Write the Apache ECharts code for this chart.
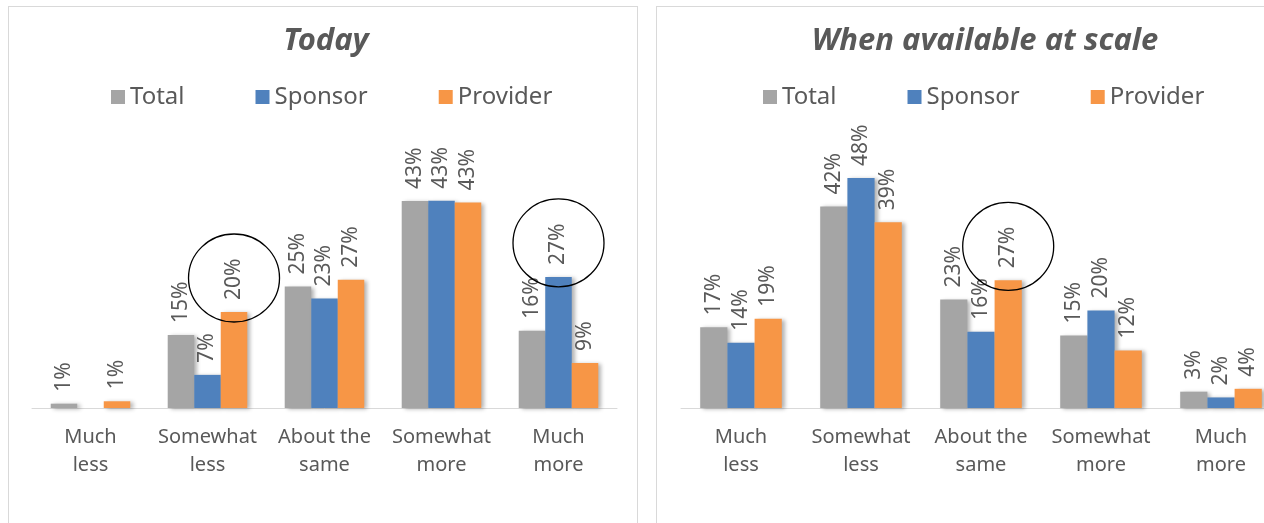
<!DOCTYPE html>
<html>
<head>
    <meta charset="utf-8">
    <title>Today / When available at scale</title>
    <script src="https://cdn.jsdelivr.net/npm/echarts@6/dist/echarts.min.js"></script>
    <style>
        body { margin: 0; width: 1264px; height: 523px; overflow: hidden; background: #fff; position: relative; }
        .panel { position: absolute; top: 6px; height: 540px; border: 1px solid #d9d9d9; }
        #chartToday { left: 8px; width: 628px; }
        #chartScale { left: 656px; width: 640px; }
    </style>
</head>
<body>
<div id="chartToday" class="panel"></div>
<div id="chartScale" class="panel"></div>
<script type="text/javascript">
    // categories and series
    var categories = ['Much\nless', 'Somewhat\nless', 'About the\nsame', 'Somewhat\nmore', 'Much\nmore'];
    var seriesNames = ['Total', 'Sponsor', 'Provider'];
    var colors = ['#A5A5A5', '#4F81BD', '#F79646'];

    // values (%)
    var todayTotal = [0.9, 15.2, 25.3, 43.1, 16.1];
    var todaySponsor = [0, 6.9, 22.8, 43.2, 27.3];
    var todayProvider = [1.4, 20.0, 26.7, 42.8, 9.4];

    var scaleTotal = [16.8, 42.0, 22.6, 15.1, 3.4];
    var scaleSponsor = [13.6, 47.9, 15.9, 20.3, 2.2];
    var scaleProvider = [18.6, 38.7, 26.6, 12.0, 4.0];

    // circled labels: [series name, category index]
    var todayCircled = [['Provider', 1], ['Sponsor', 4]];
    var scaleCircled = [['Provider', 2]];

    var font = 'Noto Sans';
    var textColor = '#595959';

    function makeSeries(name, i, values) {
        return {
            name: name,
            type: 'bar',
            barGap: 0,
            barCategoryGap: '32%',
            data: values,
            itemStyle: {
                color: colors[i],
                shadowColor: 'rgba(0,0,0,0.3)',
                shadowBlur: 4,
                shadowOffsetX: 3,
                shadowOffsetY: 1
            },
            label: {
                show: true,
                position: 'top',
                rotate: 90,
                align: 'left',
                verticalAlign: 'middle',
                distance: 12,
                fontFamily: font,
                fontSize: 21,
                color: textColor,
                formatter: function (p) {
                    return p.value > 0 ? Math.round(p.value) + '%' : '';
                }
            }
        };
    }

    function buildOption(title, titleCenter, legendLeft, gridLeft, gridWidth, total, sponsor, provider) {
        return {
            animation: false,
            title: {
                text: title,
                left: titleCenter,
                textAlign: 'center',
                top: 14,
                textStyle: {
                    fontFamily: font,
                    fontSize: 31,
                    fontWeight: 'bold',
                    fontStyle: 'italic',
                    color: textColor
                }
            },
            legend: {
                data: seriesNames,
                left: legendLeft,
                top: 73,
                itemWidth: 14,
                itemHeight: 14,
                itemGap: 71,
                icon: 'rect',
                textStyle: {
                    fontFamily: font,
                    fontSize: 24,
                    color: textColor
                }
            },
            grid: {
                left: gridLeft,
                width: gridWidth,
                top: 161,
                height: 240
            },
            xAxis: {
                type: 'category',
                data: categories,
                axisLine: { lineStyle: { color: '#d9d9d9', width: 1 } },
                axisTick: { show: false },
                axisLabel: {
                    margin: 15,
                    interval: 0,
                    fontFamily: font,
                    fontSize: 20,
                    lineHeight: 28,
                    color: textColor
                }
            },
            yAxis: {
                type: 'value',
                min: 0,
                max: 50,
                show: false,
                splitLine: { show: false }
            },
            series: [
                makeSeries(seriesNames[0], 0, total),
                makeSeries(seriesNames[1], 1, sponsor),
                makeSeries(seriesNames[2], 2, provider)
            ]
        };
    }

    function drawCircles(chart, circled) {
        var elements = circled.map(function (c) {
            var idx = seriesNames.indexOf(c[0]);
            var lay = chart.getModel().getSeriesByIndex(idx).getData().getItemLayout(c[1]);
            var top = Math.min(lay.y, lay.y + lay.height);
            return {
                type: 'ellipse',
                z: 100,
                shape: { cx: lay.x + lay.width / 2, cy: top - 34, rx: 45.5, ry: 44 },
                style: { fill: 'none', stroke: '#000', lineWidth: 1.3 }
            };
        });
        chart.setOption({ graphic: { elements: elements } });
    }

    var myChartToday = echarts.init(document.getElementById('chartToday'));
    var myChartScale = echarts.init(document.getElementById('chartScale'));

    myChartToday.setOption(buildOption('Today', 312, 97, 23, 585, todayTotal, todaySponsor, todayProvider));
    myChartScale.setOption(buildOption('When available at scale', 323, 101, 24, 600, scaleTotal, scaleSponsor, scaleProvider));

    drawCircles(myChartToday, todayCircled);
    drawCircles(myChartScale, scaleCircled);
</script>
</body>
</html>
